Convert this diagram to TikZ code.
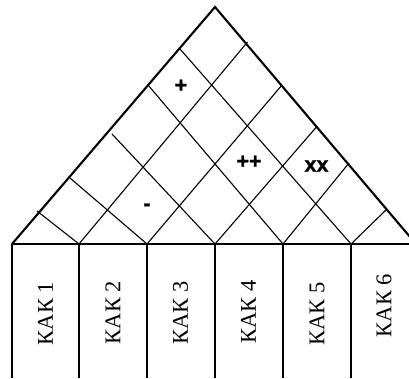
\documentclass[tikz,border=0pt]{standalone}
\usepackage{fontspec}
\usetikzlibrary{calc}
\setmainfont{Liberation Serif}
\newfontfamily\marksans{Liberation Sans}[BoldFeatures={FakeBold=1.2}]
\begin{document}
\begin{tikzpicture}[x=1pt,y=-1pt,
  roofside/.style={line width=2.1pt, line join=miter},
  gridline/.style={line width=1.1pt},
  colline/.style={line width=1.1pt},
  collabel/.style={rotate=90, inner sep=0pt, font=\fontsize{22.5}{24}\selectfont},
  relmark/.style={inner sep=0pt, font=\marksans\bfseries\fontsize{21.5}{23}\selectfont}]
\useasboundingbox (0,0) rectangle (409,378);
\clip (0,0) rectangle (409,378);

% apex and base points of the roof
\coordinate (A)  at (215,7);
\coordinate (B0) at (12,244);
\coordinate (B1) at (79,244);
\coordinate (B2) at (147,244);
\coordinate (B3) at (215,244);
\coordinate (B4) at (283,244);
\coordinate (B5) at (351,244);
\coordinate (B6) at (416,244);
\coordinate (E)  at (409,244);

% ends of the inner diagonals on the roof sides
\coordinate (R1) at (247.5,42);
\coordinate (R2) at (282,85);
\coordinate (R3) at (316,127.5);
\coordinate (R4) at (349,163);
\coordinate (R5) at (386,210);
\coordinate (L1) at (37,211);
\coordinate (L2) at (70,178);
\coordinate (L3) at (112,134);
\coordinate (L4) at (148,85);
\coordinate (L5) at (180,49);

% inner grid of the roof
\foreach \i in {1,...,5} {
  \draw[gridline] (B\i) -- (R\i);
  \draw[gridline] (B\i) -- (L\i);
}

% roof outline
\draw[roofside] (B0) -- (A) -- (B6);

% base line and column separators
\draw[line width=1.4pt] (B0) -- (E);
\draw[line width=2.1pt] (B0) -- (12,378);
\foreach \i in {1,...,5} {
  \draw[colline] (B\i) -- ($(B\i)+(0,134)$);
}

% column headings
\node[collabel] (k1) at (45.5,313.5) {КАК 1};
\node[collabel] (k2) at (113,312.5) {КАК 2};
\node[collabel] (k3) at (180.5,313) {КАК 3};
\node[collabel] (k4) at (248.5,312) {КАК 4};
\node[collabel] (k5) at (317,314) {КАК 5};
\node[collabel] (k6) at (384,305.5) {КАК 6};

% correlation marks
\node[relmark] (m1) at (181,86) {+};
\node[relmark] (m2) at (249,162) {++};
\node[relmark] (m3) at (316.5,166) {xx};
\node[relmark] (m4) at (147,207) {-};
\end{tikzpicture}
\end{document}
